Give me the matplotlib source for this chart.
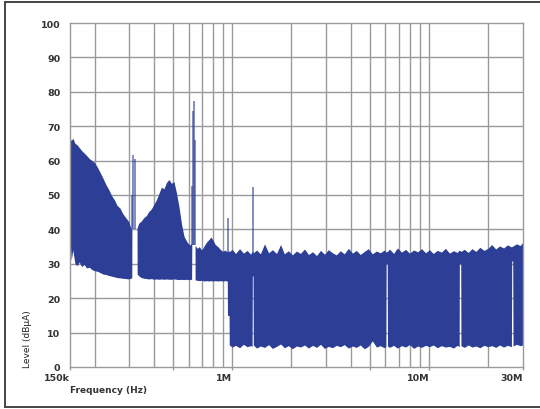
import matplotlib
matplotlib.use("Agg")
import matplotlib.pyplot as plt
from matplotlib.lines import Line2D
from matplotlib.ticker import FixedLocator, NullLocator

# conducted emission scan, envelope of the analyzer trace (MHz / dBuA)
freq_mhz = [
    0.150, 0.152, 0.155, 0.159, 0.163, 0.167, 0.172, 0.177, 0.182, 0.188,
    0.194, 0.200, 0.207, 0.214, 0.221, 0.228, 0.236, 0.244, 0.252, 0.260,
    0.269, 0.278, 0.288, 0.298, 0.305, 0.309, 0.3095, 0.3285,
    0.329, 0.335, 0.345, 0.355, 0.366, 0.377, 0.388, 0.400, 0.412, 0.424,
    0.437, 0.450, 0.463, 0.477, 0.491, 0.506, 0.521, 0.537, 0.553, 0.569,
    0.586, 0.600, 0.612, 0.622, 0.6235, 0.6475,
    0.648, 0.665, 0.680, 0.700, 0.720, 0.740, 0.760, 0.780, 0.800, 0.820,
    0.845, 0.870, 0.895, 0.920, 0.944, 0.946, 0.964,
    0.966, 1.00, 1.04, 1.09, 1.14, 1.19, 1.24, 1.262, 1.266, 1.276,
    1.28, 1.33, 1.39, 1.46, 1.53, 1.60, 1.68, 1.76, 1.84, 1.93,
    2.02, 2.12, 2.22, 2.33, 2.44, 2.56, 2.68, 2.81, 2.94, 3.08,
    3.23, 3.38, 3.54, 3.71, 3.89, 4.08, 4.27, 4.47, 4.69, 4.91,
    5.15, 5.40, 5.65, 5.92, 6.03, 6.05, 6.13, 6.15, 6.30, 6.60,
    6.90, 7.25, 7.60, 7.95, 8.35, 8.75, 9.15, 9.60, 10.05, 10.5,
    11.0, 11.55, 12.1, 12.7, 13.3, 13.9, 14.22, 14.25, 14.48, 14.52,
    15.1, 15.8, 16.5, 17.3, 18.1, 19.0, 19.9, 20.8, 21.8, 22.8,
    23.9, 25.0, 26.2, 26.3, 26.6, 26.7, 27.8, 29.0, 30.0,
]
upper_db = [
    66.8, 65.8, 66.5, 65.0, 64.6, 63.8, 62.9, 62.2, 61.5, 60.6,
    60.0, 59.4, 58.0, 56.4, 54.8, 53.1, 51.6, 49.8, 48.6, 47.0,
    46.2, 44.6, 43.4, 42.3, 40.5, 40.0, 40.0, 40.0,
    40.5, 41.8, 42.4, 43.4, 44.0, 45.2, 45.9, 47.3, 48.6, 50.4,
    52.3, 51.8, 53.6, 54.5, 53.4, 53.9, 50.6, 46.5, 41.5, 38.0,
    36.6, 35.8, 35.5, 36.0, 36.0, 36.0,
    35.3, 34.5, 35.0, 34.0, 35.2, 36.3, 37.0, 37.8, 36.8, 35.6,
    35.0, 34.2, 33.6, 34.0, 33.4, 33.6, 33.8,
    33.5, 34.2, 33.0, 34.4, 33.1, 33.9, 32.8, 33.6, 33.4, 33.4,
    33.2, 34.0, 32.9, 35.8, 33.2, 34.1, 33.0, 35.6, 32.9, 33.8,
    32.6, 33.7, 33.0, 34.3, 32.7, 33.5, 32.4, 33.9, 32.8, 34.1,
    33.2, 32.6, 33.8, 32.9, 34.5, 33.1, 33.9, 32.7, 33.6, 34.4,
    32.9, 33.7, 33.2, 34.0, 33.5, 33.4, 33.6, 33.6, 34.3, 33.0,
    34.6, 33.4, 34.2, 33.1, 34.0, 33.5, 34.4, 33.2, 34.1, 33.0,
    33.9, 33.4, 34.5, 33.1, 33.8, 33.3, 34.0, 33.9, 33.7, 33.6,
    34.2, 33.3, 34.4, 33.6, 34.8, 33.9, 34.5, 35.6, 34.3, 35.2,
    34.6, 35.5, 34.9, 35.0, 35.1, 35.2, 35.8, 35.3, 36.3,
]
lower_db = [
    38.0, 31.0, 34.0, 30.0, 29.5, 30.5, 29.2, 29.8, 28.8, 29.0,
    28.3, 28.0, 27.8, 27.4, 27.0, 26.9, 26.6, 26.4, 26.2, 26.0,
    25.9, 25.8, 25.7, 25.6, 25.8, 25.9, 40.0, 40.0,
    27.0, 26.5, 26.0, 25.8, 25.7, 25.6, 25.7, 25.5, 25.6, 25.5,
    25.6, 25.5, 25.6, 25.5, 25.5, 25.6, 25.5, 25.4, 25.5, 25.4,
    25.5, 25.4, 25.5, 25.4, 36.0, 36.0,
    25.3, 25.2, 25.1, 25.2, 25.0, 25.1, 25.0, 25.1, 25.0, 25.1,
    25.0, 25.1, 25.0, 25.1, 25.0, 15.0, 15.0,
    6.4, 5.8, 6.3, 5.6, 6.6, 5.9, 6.2, 6.0, 26.5, 26.5,
    6.4, 5.5, 6.1, 5.7, 6.5, 5.4, 6.0, 6.7, 5.6, 6.2,
    5.3, 6.1, 5.8, 6.4, 5.5, 6.3, 5.7, 6.6, 5.4, 6.0,
    5.6, 6.3, 5.9, 6.5, 5.5, 6.1, 5.7, 6.4, 5.3, 6.0,
    7.6, 5.8, 6.2, 5.6, 6.0, 30.0, 30.0, 6.1, 5.7, 6.3,
    5.5, 6.2, 5.8, 6.5, 5.4, 6.1, 5.7, 6.3, 5.9, 6.4,
    5.6, 6.2, 5.8, 6.0, 5.5, 6.3, 5.9, 30.0, 30.0, 6.2,
    5.7, 6.4, 5.8, 6.1, 5.6, 6.3, 5.9, 6.2, 5.7, 6.4,
    5.8, 6.3, 5.9, 30.8, 30.8, 6.1, 6.6, 6.2, 6.4,
]

# narrow discrete lines sticking out of the noise floor
spike_mhz = [0.310, 0.315, 0.319, 0.625, 0.631, 0.637, 0.644, 0.955, 1.27]
spike_top_db = [50.0, 61.5, 60.5, 52.5, 74.5, 77.4, 66.0, 43.3, 52.3]
spike_base_db = [40.0, 40.0, 40.0, 35.5, 35.5, 35.5, 35.5, 33.0, 33.0]

grid_mhz = [0.2, 0.3, 0.4, 0.5, 0.6, 0.7, 0.8, 0.9, 1, 2, 3, 4, 5, 6, 7, 8, 9, 10, 20]
tick_mhz = [0.15, 0.5, 1, 5, 10, 30]
tick_labels = ["150k", "", "1M", "", "10M", "30M"]
level_ticks = [0, 10, 20, 30, 40, 50, 60, 70, 80, 90, 100]

blue = "#2c3e96"
gridc = "#9a9a9a"
txt = "#333333"

fig = plt.figure(figsize=(5.4, 4.1), dpi=100)
ax = fig.add_axes([70 / 540, 42 / 410, 453 / 540, 344 / 410])

ax.set_xscale("log")
ax.set_xlim(0.15, 30)
ax.set_ylim(0, 100)

# grid under the trace
for f in grid_mhz:
    ax.axvline(f, color=gridc, lw=1.0, zorder=0)
for v in level_ticks[1:-1]:
    ax.axhline(v, color=gridc, lw=1.0, zorder=0)

ax.fill_between(freq_mhz, lower_db, upper_db, color=blue, lw=0, zorder=2)
ax.vlines(spike_mhz, spike_base_db, spike_top_db, color=blue, lw=1.1, alpha=0.75, zorder=3)

ax.xaxis.set_major_locator(FixedLocator(tick_mhz))
ax.xaxis.set_minor_locator(NullLocator())
ax.set_xticklabels(tick_labels)
for lab in ax.get_xticklabels():
    lab.set_horizontalalignment("right")
ax.set_yticks(level_ticks)

ax.tick_params(axis="x", length=2.5, width=1, color=gridc, pad=2,
               labelsize=6.8, labelcolor=txt)
ax.tick_params(axis="y", length=0, pad=7, labelsize=6.8, labelcolor=txt)
for lab in ax.get_xticklabels() + ax.get_yticklabels():
    lab.set_fontweight("bold")

for s in ax.spines.values():
    s.set_color(gridc)
    s.set_linewidth(1.0)

ax.set_xlabel("Frequency (Hz)", loc="left", fontsize=6.5, color=txt,
              fontweight="bold", labelpad=2)
ax.set_ylabel("Level (dBμA)", loc="bottom", fontsize=6.5, color="#222222", labelpad=6)

# outer frame of the screenshot
for xs, ys in [([5 / 540, 1], [407 / 410, 407 / 410]),
               ([5 / 540, 5 / 540], [2 / 410, 407 / 410]),
               ([5 / 540, 1], [2 / 410, 2 / 410])]:
    fig.add_artist(Line2D(xs, ys, color="#444444", lw=1.4))

fig.savefig("out.png", dpi=100)
